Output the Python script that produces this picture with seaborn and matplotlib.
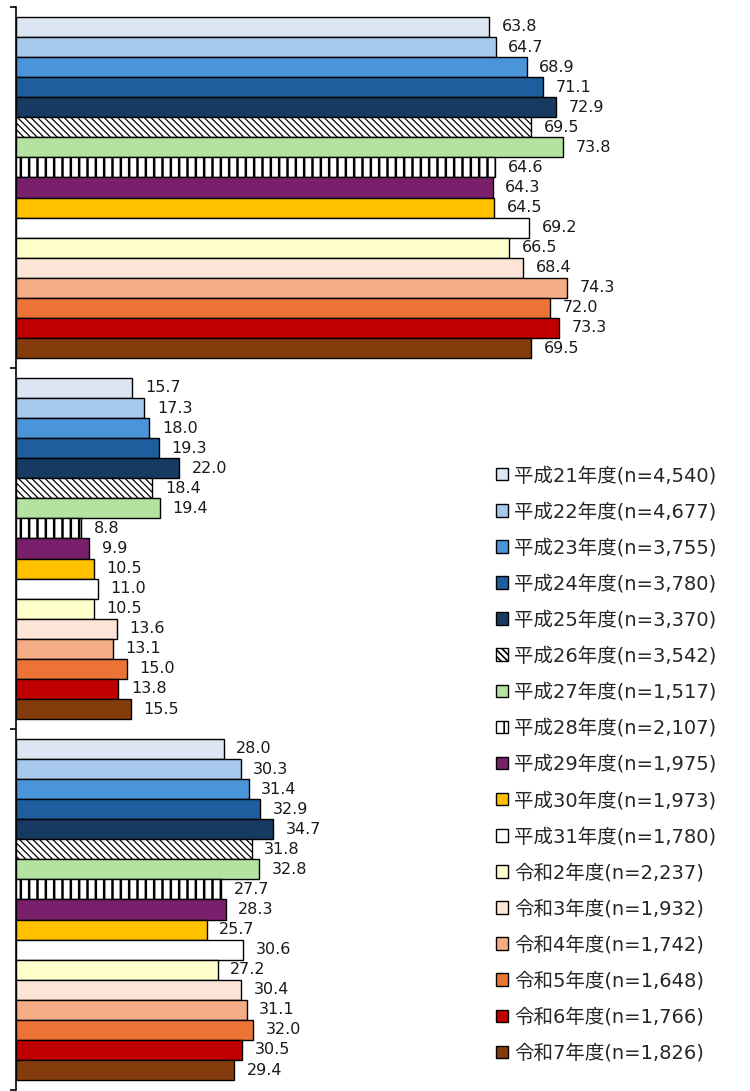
import matplotlib
matplotlib.use("Agg")
import matplotlib.pyplot as plt
from matplotlib.patches import Patch
import seaborn as sns
import pandas as pd

# ---- data ----
groups = ["項目1", "項目2", "項目3"]
years = ["平成21年度(n=4,540)", "平成22年度(n=4,677)", "平成23年度(n=3,755)",
         "平成24年度(n=3,780)", "平成25年度(n=3,370)", "平成26年度(n=3,542)",
         "平成27年度(n=1,517)", "平成28年度(n=2,107)", "平成29年度(n=1,975)",
         "平成30年度(n=1,973)", "平成31年度(n=1,780)", "令和2年度(n=2,237)",
         "令和3年度(n=1,932)", "令和4年度(n=1,742)", "令和5年度(n=1,648)",
         "令和6年度(n=1,766)", "令和7年度(n=1,826)"]
group1 = [63.8, 64.7, 68.9, 71.1, 72.9, 69.5, 73.8, 64.6, 64.3, 64.5, 69.2, 66.5, 68.4, 74.3, 72.0, 73.3, 69.5]
group2 = [15.7, 17.3, 18.0, 19.3, 22.0, 18.4, 19.4, 8.8, 9.9, 10.5, 11.0, 10.5, 13.6, 13.1, 15.0, 13.8, 15.5]
group3 = [28.0, 30.3, 31.4, 32.9, 34.7, 31.8, 32.8, 27.7, 28.3, 25.7, 30.6, 27.2, 30.4, 31.1, 32.0, 30.5, 29.4]

colors = ["#DCE6F2", "#A6C9EC", "#4A94D9", "#1F5E9C", "#173A63", "#FFFFFF",
          "#B3E2A1", "#FFFFFF", "#7A1F6C", "#FFC000", "#FFFFFF", "#FFFFCC",
          "#FCE4D6", "#F4AD84", "#EA7335", "#C00000", "#843C0C"]
hatches = [None, None, None, None, None, "\\\\\\\\\\", None, "||", None, None,
           None, None, None, None, None, None, None]
hatch_lw = {"\\\\\\\\\\": 0.9, "||": 1.8}

rows = []
for g, vals in zip(groups, [group1, group2, group3]):
    for y, v in zip(years, vals):
        rows.append({"group": g, "year": y, "value": v})
df = pd.DataFrame(rows)

# ---- style ----
sns.set_style("white")
plt.rcParams["font.family"] = ["DejaVu Sans", "Noto Sans CJK JP"]
plt.rcParams["hatch.linewidth"] = 1.2

fig = plt.figure(figsize=(7.5, 10.91), dpi=100)
ax = fig.add_axes([16 / 750, 1 / 1091, 734 / 750, 1083 / 1091])

sns.barplot(data=df, y="group", x="value", hue="year", orient="h",
            order=groups, hue_order=years, palette=colors, saturation=1,
            width=0.945, edgecolor="black", linewidth=1.0, legend=False, ax=ax)


def apply_hatch(p, h):
    p.set_hatch(h)
    try:
        p.set_hatch_linewidth(hatch_lw[h])
    except Exception:
        pass


for cont, h in zip(ax.containers, hatches):
    for p in cont:
        p.set_edgecolor("black")
        if h:
            apply_hatch(p, h)
    ax.bar_label(cont, fmt="%.1f", padding=9, fontsize=11.5, color="#1a1a1a")

ax.set_xlim(0, 99)
ax.set_ylim(2.5, -0.5)
ax.set_yticks([-0.5, 0.5, 1.5, 2.5])
ax.set_yticklabels([])
ax.set_xticks([])
ax.set_xlabel("")
ax.set_ylabel("")
ax.tick_params(axis="y", direction="out", length=4.5, width=1.2, color="black", left=True)
for s in ["top", "right", "bottom"]:
    ax.spines[s].set_visible(False)
ax.spines["left"].set_color("black")
ax.spines["left"].set_linewidth(1.2)

handles = []
for c, h in zip(colors, hatches):
    hp = Patch(facecolor=c, edgecolor="black", linewidth=1.0)
    if h:
        apply_hatch(hp, h)
    handles.append(hp)
fig.legend(handles, years, loc="upper left",
           bbox_to_anchor=(496 / 750, 1 - 466 / 1091), bbox_transform=fig.transFigure,
           frameon=False, fontsize=14, borderpad=0, borderaxespad=0,
           handlelength=0.62, handleheight=0.62, handletextpad=0.3,
           labelspacing=0.88)

fig.savefig("out.png", dpi=100)
